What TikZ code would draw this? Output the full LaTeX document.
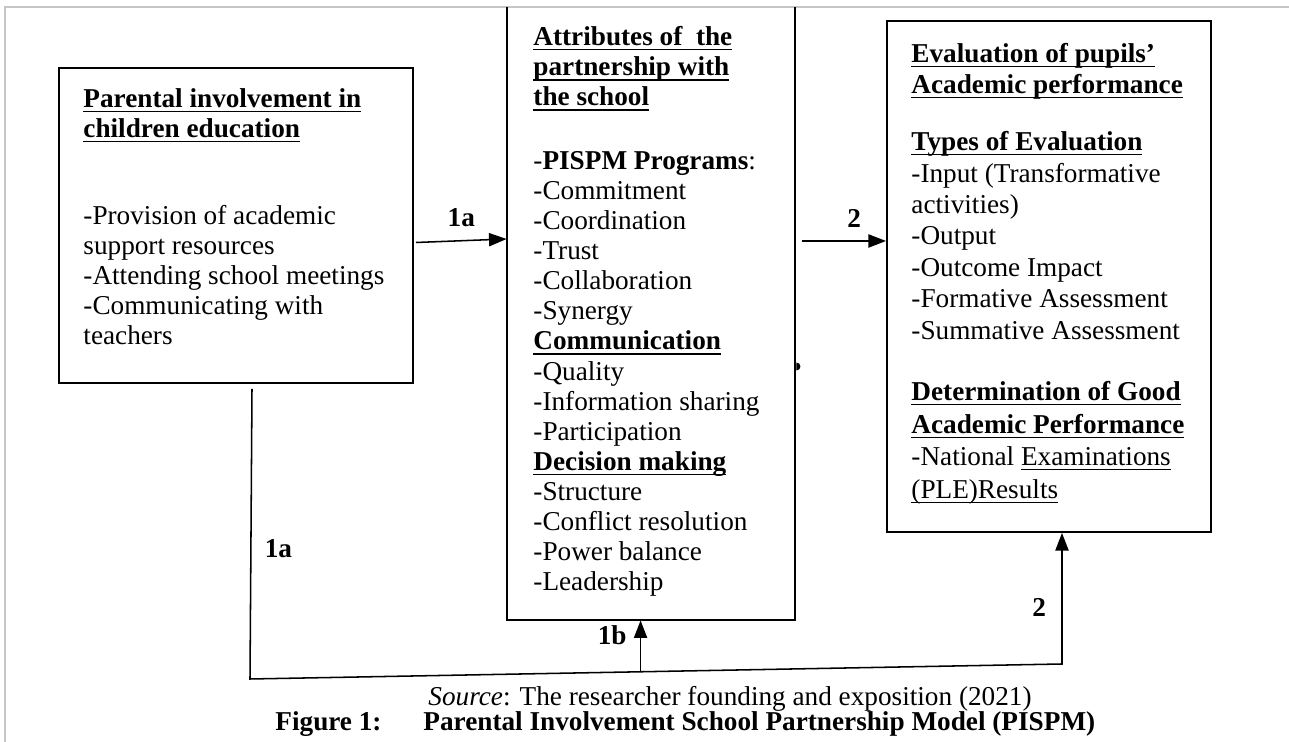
\documentclass[tikz,border=0pt]{standalone}
\usepackage{fontspec}
\setmainfont{Liberation Serif}
\usetikzlibrary{positioning, arrows.meta, calc, fit}
\newlength{\ulnwd}
\newcommand{\uln}[1]{\settowidth{\ulnwd}{#1}\rlap{\rule[-2.2pt]{\ulnwd}{0.6pt}}#1}
\newcommand{\headln}[1]{\uln{\textbf{#1}}}
\tikzset{
  frame/.style={draw=black, line width=0.9pt, inner sep=0pt},
  boxtext/.style={anchor=north west, inner sep=0pt, align=left, font=\fontsize{12.4}{13.7}\selectfont},
  tag/.style={inner sep=0pt, font=\fontsize{12.4}{13.7}\selectfont\bfseries},
  arrow/.style={line width=0.7pt, -{Triangle[length=8pt,width=6pt]}}
}
\begin{document}
\begin{tikzpicture}[x=0.016cm, y=-0.016cm]
\useasboundingbox (0,0) rectangle (1289,742);

% Borde de la pagina
\draw[gray!45, line width=1pt] (5,742) -- (5,7) -- (1289,7);

% Cajas
\node (parent_box) [frame, fit={(59,68) (413,383)}] {};
\node (partner_box) [inner sep=0pt, fit={(507,7) (795,620)}] {};
\draw[line width=0.9pt] (partner_box.north west) -- (partner_box.south west) -- (partner_box.south east) -- (partner_box.north east);
\fill ($(partner_box.east)+(1,53)$) ++(0,-4) arc (-90:90:4) -- cycle;
\node (eval_box) [frame, fit={(887,21) (1211,532)}] {};

% Textos
\node (parent_head) [boxtext] at (83,88) {\headln{Parental involvement in}\\\headln{children education}};
\node (parent_list) [boxtext] at (83,205) {-Provision of academic\\support resources\\-Attending school meetings\\-Communicating with\\teachers};

\node (partner_head) [boxtext] at (533,26) {\headln{Attributes of\ \ the}\\\headln{partnership with}\\\headln{the school}};
\node (partner_list) [boxtext] at (533,151) {-\textbf{PISPM Programs}:\\-Commitment\\-Coordination\\-Trust\\-Collaboration\\-Synergy\\\headln{Communication}\\-Quality\\-Information sharing\\-Participation\\\headln{Decision making}\\-Structure\\-Conflict resolution\\-Power balance\\-Leadership};

\node (eval_head) [boxtext, font=\fontsize{12.4}{14.1}\selectfont] at (911,43) {\headln{Evaluation of pupils'}\\\headln{Academic performance}};
\node (eval_types) [boxtext, font=\fontsize{12.4}{14.3}\selectfont] at (911,131) {\headln{Types of Evaluation}\\-Input (Transformative\\activities)\\-Output\\-Outcome Impact\\-Formative Assessment\\-Summative Assessment};
\node (eval_good) [boxtext, font=\fontsize{12.4}{14.8}\selectfont] at (911,381) {\headln{Determination of Good}\\\headln{Academic Performance}\\-National \uln{Examinations}\\\uln{(PLE)Results}};

% Conexiones
\draw [arrow] ($(parent_box.east)+(2,17)$) -- node[tag, above=6pt] {1a} ($(partner_box.west)+(0,-74.5)$);
\draw [arrow] ($(partner_box.east)+(7,-72.5)$) -- node[tag, pos=0.62, above=6pt] {2} ($(eval_box.west)+(0,-35.5)$);

% Linea inferior
\coordinate (corner_left) at (250,679);
\coordinate (corner_right) at (1062,664);
\coordinate (join_1b) at ($(corner_left)!0.481!(corner_right)$);
\draw [arrow] ($(parent_box.south)+(16,5)$) -- node[tag, pos=0.55, right=6pt] {1a} (corner_left) -- (corner_right) -- node[tag, pos=0.43, left=7pt] {2} (corner_right |- eval_box.south);
\draw [arrow] (join_1b) -- node[tag, pos=0.72, left=6pt] {1b} (join_1b |- partner_box.south);

% Fuente y titulo
\node (source_note) [anchor=base, inner sep=0pt, font=\fontsize{12.4}{13.7}\selectfont] at (730,706) {\textit{Source}: The researcher founding and exposition (2021)};
\node (fig_caption) [anchor=base west, inner sep=0pt, font=\fontsize{12.4}{13.7}\selectfont\bfseries] at (275,731) {\makebox[67.4pt][l]{Figure 1:}Parental Involvement School Partnership Model (PISPM)};

\end{tikzpicture}
\end{document}
